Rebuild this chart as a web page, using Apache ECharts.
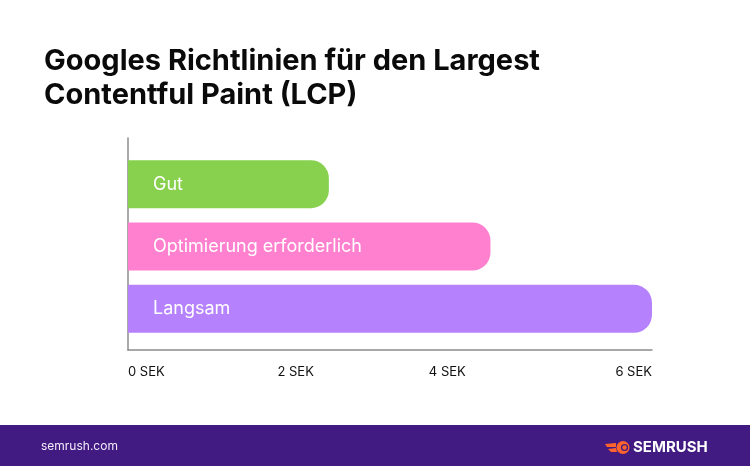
<!DOCTYPE html>
<html><head><meta charset="utf-8">
<script src="https://cdn.jsdelivr.net/npm/echarts@6/dist/echarts.min.js"></script>
<style>html,body{margin:0;padding:0;background:#fff}#c{width:750px;height:466px}</style>
</head><body><div id="c"></div>
<script>
const categories = ['Gut', 'Optimierung erforderlich', 'Langsam'];
const values = [2.3, 4.15, 6];
const barColors = ['#87d14f', '#ff80cf', '#b681fc'];
const tickValues = [0, 2, 4, 6];
const tickLabels = ['0 SEK', '2 SEK', '4 SEK', '6 SEK'];
const titleText = 'Googles Richtlinien für den Largest\nContentful Paint (LCP)';
const footerLeft = 'semrush.com';
const footerBrand = 'SEMRUSH';

const chart = echarts.init(document.getElementById('c'), null, {renderer: 'canvas'});
const FONT = 'Inter, "Noto Sans", sans-serif';
const axisColor = '#8c8c8c';
const tickFont = {fontFamily: FONT, fontSize: 13, color: '#111'};

chart.setOption({
  backgroundColor: '#ffffff',
  animation: false,
  title: {
    text: titleText,
    left: 39, top: 39,
    textStyle: {fontFamily: FONT, fontSize: 29, fontWeight: 700, color: '#0a0a0a', lineHeight: 34}
  },
  grid: [
    {left: 128, right: 98, top: 138, bottom: 116},
    {left: 128, right: 98, top: 153, height: 187}
  ],
  xAxis: [
    {
      gridIndex: 0, type: 'value', min: 0, max: 6, interval: 2,
      axisLine: {show: true, lineStyle: {color: axisColor, width: 1.5}},
      axisTick: {show: false}, splitLine: {show: false},
      axisLabel: {
        margin: 16, color: '#111', fontFamily: FONT, fontSize: 13,
        alignMinLabel: 'left', alignMaxLabel: 'right',
        formatter: function (v) {
          const i = tickValues.indexOf(v);
          return '{t' + i + '|' + tickLabels[i] + '}';
        },
        rich: {
          t0: Object.assign({}, tickFont),
          t1: Object.assign({padding: [0, 14, 0, 0]}, tickFont),
          t2: Object.assign({padding: [0, 60, 0, 0]}, tickFont),
          t3: Object.assign({}, tickFont)
        }
      }
    },
    {gridIndex: 1, type: 'value', min: 0, max: 6, show: false}
  ],
  yAxis: [
    {
      gridIndex: 0, type: 'value', min: 0, max: 1,
      axisLine: {show: true, lineStyle: {color: axisColor, width: 1.5}},
      axisTick: {show: false}, splitLine: {show: false}, axisLabel: {show: false}
    },
    {gridIndex: 1, type: 'category', data: categories, inverse: true, show: false}
  ],
  series: [{
    type: 'bar',
    xAxisIndex: 1, yAxisIndex: 1,
    barWidth: 48,
    data: values.map((v, i) => ({value: v, itemStyle: {color: barColors[i]}})),
    itemStyle: {borderRadius: [0, 18, 18, 0]},
    label: {
      show: true, position: 'insideLeft', distance: 25,
      formatter: '{b}', color: '#ffffff', fontFamily: FONT, fontSize: 18
    }
  }],
  graphic: [
    {type: 'rect', left: 0, top: 425, shape: {width: 750, height: 41}, style: {fill: '#421b82'}, silent: true},
    {type: 'text', x: 41, y: 446, style: {text: footerLeft, fill: '#f2ecfa', font: '12px ' + FONT, textVerticalAlign: 'middle'}},
    {type: 'group', x: 0, y: 0, children: [
      {type: 'polygon', shape: {points: [[605, 444], [616, 443], [616, 447], [607, 447]]}, style: {fill: '#ff642d'}},
      {type: 'polygon', shape: {points: [[608, 449], [616, 448], [617, 452], [611, 452]]}, style: {fill: '#ff642d'}},
      {type: 'circle', shape: {cx: 623, cy: 447.5, r: 6.5}, style: {fill: '#ff642d'}},
      {type: 'circle', shape: {cx: 624.5, cy: 447.5, r: 3.6}, style: {fill: '#421b82'}},
      {type: 'circle', shape: {cx: 624.5, cy: 447.5, r: 2.2}, style: {fill: '#ff642d'}}
    ]},
    {type: 'text', x: 633, y: 447.5, style: {text: footerBrand, fill: '#ffffff', font: 'bold 15px ' + FONT, textVerticalAlign: 'middle'}}
  ]
});
</script>
</body></html>
